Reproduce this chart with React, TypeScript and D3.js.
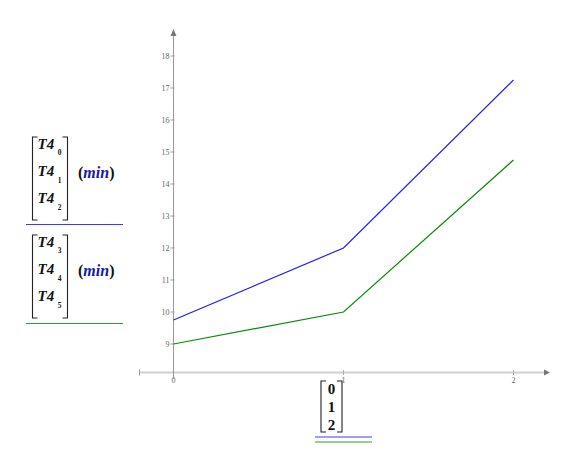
import React from "react";
import * as d3 from "d3";

const xValues = [0, 1, 2];
const blueSeries = [9.75, 12, 17.25];
const greenSeries = [9, 10, 14.75];
const yTicks = [9, 10, 11, 12, 13, 14, 15, 16, 17, 18];
const xTicks = [0, 1, 2];
const legendTop = ["0", "1", "2"];
const legendBottom = ["3", "4", "5"];
const xLegend = ["0", "1", "2"];

const W = 576;
const H = 456;
const SERIF = "'Liberation Serif', 'DejaVu Serif', serif";

function Bracket({ x1, x2, top, bottom }: { x1: number; x2: number; top: number; bottom: number }) {
  const s = 5;
  return (
    <g stroke="#222" strokeWidth={1.1} fill="none">
      <path d={`M${x1 + s},${top} H${x1} V${bottom} H${x1 + s}`} />
      <path d={`M${x2 - s},${top} H${x2} V${bottom} H${x2 - s}`} />
    </g>
  );
}

function T4Matrix({ idx, top, color, lineY }: { idx: string[]; top: number; color: string; lineY: number }) {
  const rowYs = [top + 11.5, top + 39, top + 66];
  return (
    <g>
      <Bracket x1={32.5} x2={67.5} top={top} bottom={top + 83} />
      {idx.map((s, i) => (
        <text key={s} x={37.5} y={rowYs[i]} fontFamily={SERIF} fontStyle="italic" fontWeight="bold" fontSize={15} fill="#111">
          T4
          <tspan fontSize={7.5} dy={6.5} dx={3.5} fontStyle="normal" fill="#111">{s}</tspan>
        </text>
      ))}
      <text x={78} y={top + 41} fontFamily={SERIF} fontWeight="bold" fontSize={16} fill="#111">
        (<tspan fill="#1a1aa6" fontStyle="italic">min</tspan>)
      </text>
      <line x1={26} x2={123} y1={lineY} y2={lineY} stroke={color} strokeWidth={1.2} />
    </g>
  );
}

export default function App() {
  const x = d3.scaleLinear().domain([0, 2]).range([173.5, 513.5]);
  const y = d3.scaleLinear().domain([9, 18]).range([344, 56]);
  const line = d3
    .line<number>()
    .x((_, i) => x(xValues[i]))
    .y((d) => y(d));
  const axisY = 372.5;
  const axisX = x(0);

  return (
    <svg width={W} height={H} style={{ position: "absolute", left: 0, top: 0, background: "#fff" }}>
      {/* x axis */}
      <line x1={139} x2={545} y1={axisY} y2={axisY} stroke="#d0d0d0" strokeWidth={2} />
      <line x1={139.5} x2={139.5} y1={axisY - 3} y2={axisY + 3} stroke="#999" strokeWidth={1} />
      <path d={`M${544},${axisY - 3} L${550},${axisY} L${544},${axisY + 3} Z`} fill="#777" />
      {xTicks.map((t) => (
        <g key={t}>
          <line x1={x(t)} x2={x(t)} y1={axisY - 2.5} y2={axisY + 2.5} stroke="#aaa" strokeWidth={1} />
          <text x={x(t)} y={383} textAnchor="middle" fontFamily={SERIF} fontSize={8} fill="#666">
            {t}
          </text>
        </g>
      ))}
      {/* y axis */}
      <line x1={axisX} x2={axisX} y1={33} y2={379} stroke="#9a9a9a" strokeWidth={1} />
      <path d={`M${axisX - 3},${36} L${axisX},${29} L${axisX + 3},${36} Z`} fill="#777" />
      {yTicks.map((t) => (
        <g key={t}>
          <line x1={axisX - 3} x2={axisX + 1} y1={y(t)} y2={y(t)} stroke="#999" strokeWidth={1} />
          <text x={axisX - 4} y={y(t) + 2.5} textAnchor="end" fontFamily={SERIF} fontSize={8} fill="#666">
            {t}
          </text>
        </g>
      ))}
      {/* series */}
      <path d={line(blueSeries) || ""} fill="none" stroke="#1f1fff" strokeWidth={1.2} />
      <path d={line(greenSeries) || ""} fill="none" stroke="#0a8a0a" strokeWidth={1.2} />

      {/* left legends */}
      <T4Matrix idx={legendTop} top={137} color="#3a3aff" lineY={224.5} />
      <T4Matrix idx={legendBottom} top={235} color="#2e9e2e" lineY={323.5} />

      {/* x legend */}
      <Bracket x1={321} x2={342} top={381} bottom={432} />
      {xLegend.map((s, i) => (
        <text key={s} x={331.5} y={394 + i * 18} textAnchor="middle" fontFamily={SERIF} fontWeight="bold" fontSize={15} fill="#111">
          {s}
        </text>
      ))}
      <line x1={315} x2={372} y1={437} y2={437} stroke="#3a3aff" strokeWidth={1.2} />
      <line x1={315} x2={372} y1={442} y2={442} stroke="#2e9e2e" strokeWidth={1.2} />
    </svg>
  );
}
